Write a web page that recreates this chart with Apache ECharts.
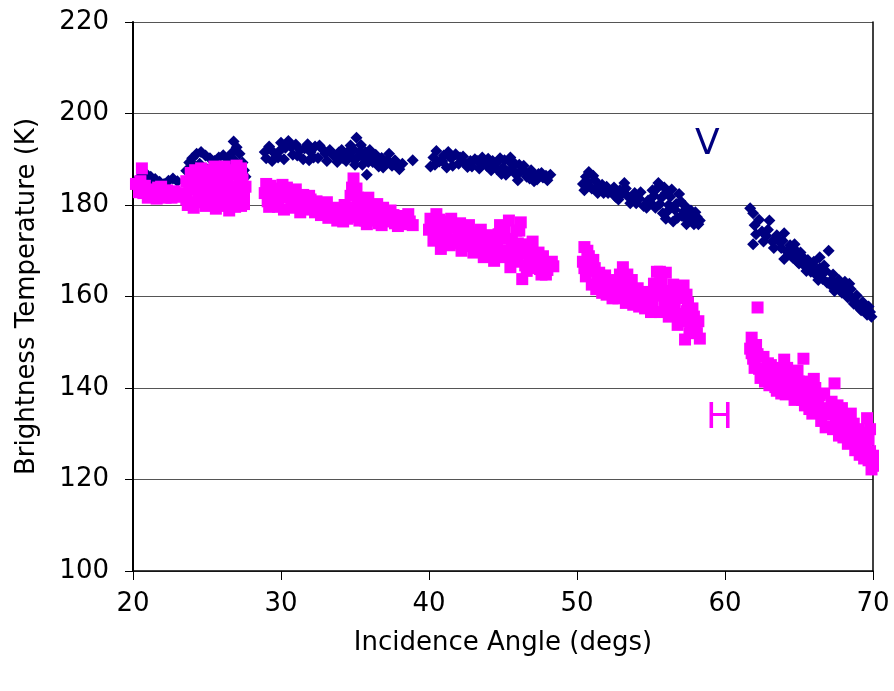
<!DOCTYPE html>
<html>
<head>
<meta charset="utf-8">
<script src="https://cdn.jsdelivr.net/npm/echarts@6/dist/echarts.min.js"></script>
<style>
  html, body { margin: 0; padding: 0; background: #ffffff; }
  #chart { width: 894px; height: 691px; }
</style>
</head>
<body>
<div id="chart"></div>
<script>
// Brightness temperature vs incidence angle, V and H polarisations
var xTicks = [20, 30, 40, 50, 60, 70];
var yTicks = [100, 120, 140, 160, 180, 200, 220];

// [incidence angle (deg), brightness temperature (K)]
var vPol = [
  [20.3,185.6],[20.6,186.3],[20.9,186.8],[21.2,186.2],[21.5,185.7],[21.8,185.1],[22.1,184.6],[22.4,185.3],[22.7,185.8],[23.0,185.2],[21.0,184.8],[22.0,184.2],
  [23.6,187.5],[23.8,189.3],[24.0,190.2],[24.3,191.2],[24.6,191.6],[24.9,190.8],[25.2,190.2],[25.5,189.6],[25.8,190.4],[26.1,190.9],[26.4,190.1],[26.7,191.4],[26.8,193.9],[27.0,192.6],[27.2,191.2],[27.4,189.3],[27.5,187.6],[27.6,186.2],[24.2,188.4],[25.0,187.8],[25.9,188.2],[26.5,188.8],
  [23.9,186.8],[24.5,189.0],[25.3,188.2],[25.7,187.4],[26.2,188.6],[26.9,189.6],[27.3,187.6],[24.7,187.2],
  [28.9,191.6],[29.2,192.8],[29.5,191.5],[29.8,190.4],[30.0,193.6],[30.3,192.5],[30.5,194.0],[30.8,191.0],[31.0,193.2],[31.3,192.0],[31.5,190.0],[31.8,193.3],[32.0,191.6],[32.3,192.8],[32.5,190.3],[32.8,192.2],[33.0,191.2],[33.3,192.0],[33.6,190.6],[33.9,191.5],[34.2,190.2],[34.5,191.6],[34.7,193.0],[34.9,192.1],[35.1,194.7],[35.2,190.5],[35.4,193.1],[35.5,188.8],[35.7,191.6],[35.8,186.6],[36.0,192.0],[36.2,189.4],[36.4,191.0],[36.6,188.4],[36.8,190.3],[37.0,189.1],[37.3,191.2],[37.5,188.6],[37.7,189.8],[38.0,187.8],[38.9,189.8],
  [29.0,190.2],[29.4,189.6],[29.9,191.8],[30.2,190.0],[30.7,192.6],[31.1,190.8],[31.6,192.4],[31.9,189.8],[32.2,190.4],[32.6,193.0],[33.1,189.6],[33.5,191.2],[33.8,189.4],[34.1,192.0],[34.4,189.6],[34.8,190.4],[35.0,188.8],[35.3,191.6],[35.6,190.2],[35.9,189.4],[36.1,190.6],[36.5,189.6],[36.9,188.2],[37.2,189.8],[37.8,188.6],[38.2,189.0],
  [40.1,188.4],[40.3,190.4],[40.5,191.8],[40.7,189.5],[41.0,190.8],[41.2,188.2],[41.5,190.2],[41.8,191.1],[42.0,189.0],[42.3,190.6],[42.6,188.3],[42.8,189.6],[43.1,190.0],[43.4,188.0],[43.7,189.3],[44.0,190.1],[44.2,187.6],[44.5,189.0],[44.8,190.2],[45.0,188.2],[45.2,186.6],[45.4,189.6],[45.6,187.8],[45.8,189.0],[46.0,185.4],[46.2,187.4],[46.4,188.6],[46.6,186.2],[46.9,187.6],[47.1,185.2],[47.4,186.8],[47.7,186.0],[48.0,185.4],[48.2,186.6],
  [40.4,188.8],[40.9,189.6],[41.3,191.6],[41.6,188.6],[42.1,190.4],[42.4,189.2],[42.9,188.4],[43.3,189.6],[43.6,190.4],[43.9,188.6],[44.3,189.6],[44.6,187.8],[45.1,189.8],[45.3,187.2],[45.7,188.6],[45.9,186.6],[46.1,188.8],[46.5,187.2],[46.8,185.8],[47.0,186.8],[47.3,185.6],[47.6,187.0],[47.9,186.4],[45.5,190.4],[44.9,186.8],
  [50.4,184.6],[50.6,186.2],[50.8,187.2],[51.0,183.6],[51.2,185.4],[51.5,184.2],[51.8,182.6],[52.0,184.0],[52.3,183.0],[52.6,181.8],[52.9,183.2],[53.2,184.8],[53.4,182.0],[53.6,180.4],[53.9,182.6],[54.2,181.4],[54.5,179.8],[54.8,181.0],[55.1,183.2],[55.3,179.4],[55.5,184.8],[55.7,181.6],[55.9,183.8],[56.1,178.6],[56.3,181.8],[56.5,176.4],[56.7,180.2],[56.9,182.4],[57.1,177.6],[57.3,179.8],[57.5,176.6],[57.7,178.8],[57.9,175.8],[58.1,177.4],[58.3,176.6],[56.0,177.0],
  [50.5,183.2],[50.7,185.0],[51.1,186.4],[51.4,182.6],[51.7,184.4],[52.1,182.6],[52.5,183.8],[52.8,181.2],[53.1,182.6],[53.3,183.6],[53.7,181.6],[54.0,180.4],[54.3,182.8],[54.7,179.4],[55.0,180.4],[55.2,182.0],[55.4,183.6],[55.6,180.2],[55.8,178.2],[56.0,182.6],[56.2,180.0],[56.4,183.4],[56.6,179.0],[56.8,177.2],[57.0,180.8],[57.2,178.6],[57.4,175.8],[57.6,177.8],[57.8,176.8],[58.0,178.4],[58.2,175.8],
  [61.7,179.3],[61.9,178.2],[62.0,175.6],[61.9,171.4],[62.3,176.8],[62.5,174.2],[62.8,173.2],[63.0,176.6],[63.2,172.0],[63.5,173.4],[63.8,170.6],[64.0,173.8],[64.2,169.8],[64.4,171.2],[64.6,168.4],[64.8,170.0],[65.0,167.2],[65.2,168.8],[65.4,166.6],[65.6,168.0],[65.8,165.4],[66.0,167.6],[66.2,164.6],[66.4,166.2],[66.6,163.8],[66.8,165.6],[67.0,170.0],[67.1,162.6],[67.3,164.8],[67.5,162.0],[67.7,163.6],[67.9,160.8],[68.1,163.2],[68.3,159.8],[68.5,161.6],[68.7,158.4],[68.9,160.2],[69.1,157.4],[69.3,158.8],[69.5,156.6],[69.7,157.8],[69.9,155.6],[66.4,168.6],[64.0,168.2],
  [62.1,173.6],[62.6,172.0],[62.9,174.6],[63.3,170.6],[63.6,172.2],[63.9,172.2],[64.3,170.2],[64.5,168.8],[64.7,171.4],[64.9,167.6],[65.1,169.6],[65.3,167.4],[65.5,165.6],[65.7,166.8],[65.9,167.0],[66.1,165.4],[66.3,163.6],[66.5,165.0],[66.7,166.8],[66.9,163.0],[67.2,163.6],[67.4,161.2],[67.6,163.0],[67.8,161.8],[68.0,162.0],[68.2,160.8],[68.4,162.8],[68.6,159.6],[68.8,158.6],[69.0,158.2],[69.2,157.0],[69.4,157.8],[69.6,156.0],[69.8,156.6]
];

var hPol = [
  [20.2,184.6],[20.4,182.8],[20.6,188.0],[20.8,184.2],[21.0,181.6],[21.2,183.4],[21.4,182.2],[21.7,183.8],[22.0,182.0],[22.3,183.2],[22.6,181.6],[22.8,183.0],[20.5,185.2],
  [21.1,182.8],[21.6,181.4],[22.2,181.6],[22.9,181.8],[20.7,182.6],[21.9,184.0],
  [23.5,182.6],[23.6,185.2],[23.7,180.0],[23.9,187.0],[24.0,183.4],[24.1,179.4],[24.3,185.8],[24.4,181.4],[24.6,188.0],[24.7,183.6],[24.9,179.8],[25.0,186.4],[25.2,181.8],[25.3,184.6],[25.5,188.4],[25.6,179.2],[25.8,183.0],[25.9,186.0],[26.1,180.6],[26.2,188.4],[26.4,184.2],[26.5,178.8],[26.7,186.6],[26.8,181.6],[27.0,188.6],[27.1,183.8],[27.3,179.8],[27.4,185.6],[27.5,182.0],[26.0,183.6],[24.8,185.0],
  [23.6,181.2],[23.8,183.6],[24.0,185.6],[24.2,187.6],[24.3,180.6],[24.5,182.8],[24.6,184.6],[24.9,187.6],[25.0,180.6],[25.1,183.2],[25.3,186.6],[25.4,181.0],[25.6,183.6],[25.7,187.0],[25.9,179.8],[26.0,181.8],[26.1,185.6],[26.3,187.0],[26.3,182.6],[26.6,180.0],[26.6,184.0],[26.8,187.6],[26.9,179.6],[27.0,182.6],[27.2,185.6],[27.3,188.0],[27.5,180.2],[27.6,184.0],
  [28.9,182.6],[29.1,180.8],[29.3,184.2],[29.6,182.0],[29.8,179.6],[30.1,184.4],[30.3,181.6],[30.6,183.2],[30.8,179.4],[31.1,181.8],[31.3,178.4],[31.6,180.6],[31.9,182.0],[32.1,179.2],[32.4,180.8],[32.7,177.8],[33.0,179.6],[33.2,177.2],[33.5,178.6],[33.8,176.6],[34.1,178.2],[34.3,180.0],[34.5,177.0],[34.7,182.0],[34.9,185.8],[35.0,179.4],[35.1,183.6],[35.3,176.6],[35.4,181.2],[35.6,178.2],[35.8,175.8],[36.0,179.6],[36.3,177.0],[36.5,180.2],[36.8,175.6],[37.0,178.4],[37.3,176.4],[37.6,177.8],[37.9,175.4],[38.2,176.8],[38.6,178.0],[38.9,175.6],
  [29.0,184.6],[29.2,179.6],[29.5,183.6],[29.7,181.0],[30.0,182.6],[30.2,179.0],[30.4,183.8],[30.7,181.0],[31.0,183.4],[31.2,180.2],[31.5,182.2],[31.8,179.0],[32.0,181.2],[32.3,178.4],[32.6,180.0],[32.9,178.4],[33.1,180.6],[33.4,177.6],[33.7,179.4],[34.0,177.4],[34.2,176.4],[34.6,179.0],[34.8,183.8],[35.0,177.4],[35.2,181.6],[35.5,179.6],[35.7,176.6],[35.9,181.6],[36.1,176.6],[36.4,178.4],[36.6,176.0],[36.9,179.4],[37.1,176.8],[37.4,178.8],[37.7,176.0],[38.0,177.6],[38.4,175.8],[38.7,176.4],
  [40.0,174.6],[40.1,177.0],[40.3,172.2],[40.5,178.0],[40.6,175.2],[40.8,170.4],[41.0,176.4],[41.2,173.0],[41.5,177.0],[41.7,171.6],[42.0,174.4],[42.2,170.0],[42.5,172.8],[42.7,175.6],[43.0,169.6],[43.2,172.2],[43.5,174.6],[43.7,168.6],[44.0,171.0],[44.2,173.4],[44.4,167.8],[44.6,170.2],[44.8,175.6],[45.0,168.6],[45.2,172.6],[45.4,176.6],[45.5,166.4],[45.7,170.2],[45.9,174.4],[46.0,167.6],[46.2,176.2],[46.4,171.4],[46.6,165.6],[46.8,168.6],[47.0,172.0],[47.2,166.2],[47.4,169.6],[47.6,164.8],[47.8,167.4],[48.0,165.8],[48.3,167.6],[46.3,163.8],
  [40.2,175.6],[40.4,173.4],[40.7,176.8],[40.9,172.6],[41.1,174.8],[41.4,171.2],[41.6,175.0],[41.9,172.4],[42.1,176.0],[42.4,171.0],[42.6,174.0],[42.9,171.8],[43.1,174.0],[43.4,170.2],[43.6,172.8],[43.9,169.6],[44.1,172.0],[44.3,169.0],[44.5,171.8],[44.7,173.6],[44.9,170.0],[45.1,174.6],[45.3,169.6],[45.6,172.0],[45.8,168.0],[46.0,171.6],[46.1,174.4],[46.3,169.4],[46.5,166.8],[46.7,170.4],[46.9,166.6],[47.1,169.0],[47.3,167.6],[47.5,166.0],[47.7,168.8],[47.9,164.8],[48.1,166.8],[48.4,166.6],
  [50.4,167.6],[50.5,170.8],[50.6,164.4],[50.8,168.8],[51.0,162.6],[51.2,166.2],[51.4,163.8],[51.7,160.8],[51.9,164.6],[52.2,162.0],[52.4,159.6],[52.7,161.8],[53.0,163.6],[53.1,166.4],[53.3,158.6],[53.5,161.2],[53.7,163.6],[54.0,159.6],[54.2,157.8],[54.5,161.0],[54.8,159.0],[55.0,156.6],[55.2,162.8],[55.4,165.4],[55.5,160.2],[55.7,163.6],[55.9,157.8],[56.0,165.2],[56.2,155.6],[56.4,160.8],[56.6,158.4],[56.8,153.8],[57.0,161.6],[57.2,156.2],[57.2,162.4],[57.3,150.6],[57.5,158.6],[57.7,153.4],[57.9,155.6],[58.1,152.0],[58.3,150.8],[58.2,154.6],
  [50.5,166.2],[50.7,170.0],[50.9,165.6],[51.1,168.0],[51.3,161.6],[51.5,165.2],[51.8,162.8],[52.0,160.4],[52.3,163.6],[52.5,160.8],[52.8,159.6],[52.9,164.8],[53.2,161.8],[53.4,164.8],[53.6,160.0],[53.8,158.2],[54.1,161.8],[54.3,159.2],[54.6,157.4],[54.9,160.6],[55.1,158.2],[55.3,160.4],[55.6,156.6],[55.6,165.4],[55.8,161.2],[56.1,159.6],[56.3,157.4],[56.5,162.6],[56.7,156.0],[56.9,159.6],[57.1,154.6],[57.4,156.8],[57.6,152.0],[57.8,157.4],[58.0,154.0],[57.4,160.4],
  [62.2,157.6],[61.8,151.0],[61.7,148.6],[61.9,146.4],[62.1,149.4],[62.3,144.2],[62.4,142.2],[62.6,146.8],[62.8,143.0],[63.0,140.6],[63.1,145.0],[63.3,142.0],[63.5,139.4],[63.7,144.4],[63.9,141.2],[64.0,146.2],[64.1,138.6],[64.3,142.6],[64.5,140.0],[64.7,137.4],[64.9,143.8],[65.1,139.6],[65.3,146.4],[65.4,136.2],[65.6,141.4],[65.8,138.2],[65.9,134.4],[66.1,140.0],[66.3,136.4],[66.5,132.8],[66.7,138.8],[66.9,134.8],[67.0,131.6],[67.2,137.0],[67.4,141.0],[67.5,133.0],[67.7,129.6],[67.9,135.6],[68.1,131.6],[68.3,127.8],[68.5,134.4],[68.6,129.8],[68.8,126.4],[69.0,131.0],[69.2,128.0],[69.4,124.6],[69.6,133.4],[69.7,128.8],[69.8,126.2],[69.9,122.2],[70.0,125.2],
  [61.8,147.6],[62.0,144.4],[62.2,147.4],[62.5,143.8],[62.7,141.4],[62.9,145.4],[63.2,143.6],[63.4,140.2],[63.6,142.6],[63.8,138.8],[64.2,144.4],[64.4,139.0],[64.6,142.2],[64.8,138.6],[65.0,141.4],[65.2,137.4],[65.5,139.4],[65.7,135.4],[65.9,137.8],[66.0,142.0],[66.2,134.6],[66.4,138.4],[66.6,135.6],[66.8,131.4],[67.1,134.2],[67.3,131.0],[67.6,136.2],[67.8,132.2],[68.0,129.2],[68.2,133.6],[68.4,130.4],[68.7,132.2],[68.9,128.2],[69.1,125.4],[69.3,130.2],[69.5,127.0],[69.7,124.2],[69.8,131.0],[70.0,123.0]
];

var FONT = 'DejaVu Sans';
var chart = echarts.init(document.getElementById('chart'), null, { renderer: 'canvas' });

chart.setOption({
  animation: false,
  backgroundColor: '#ffffff',
  grid: { left: 133, right: 21, top: 22, bottom: 120, containLabel: false },
  xAxis: {
    type: 'value',
    min: xTicks[0],
    max: xTicks[xTicks.length - 1],
    interval: 10,
    name: 'Incidence Angle (degs)',
    nameLocation: 'middle',
    nameGap: 59,
    nameTextStyle: { fontFamily: FONT, fontSize: 26, color: '#000' },
    axisLine: { onZero: false, lineStyle: { color: '#000', width: 1.5 } },
    axisTick: { show: true, inside: false, length: 9, lineStyle: { color: '#000', width: 1 } },
    axisLabel: { fontFamily: FONT, fontSize: 26, color: '#000', margin: 20 },
    splitLine: { show: false }
  },
  yAxis: [{
    type: 'value',
    min: yTicks[0],
    max: yTicks[yTicks.length - 1],
    interval: 20,
    name: 'Brightness Temperature (K)',
    nameLocation: 'middle',
    nameGap: 93,
    nameRotate: 90,
    nameTextStyle: { fontFamily: FONT, fontSize: 26, color: '#000' },
    axisLine: { show: true, onZero: false, lineStyle: { color: '#000', width: 2 } },
    axisTick: { show: true, inside: false, length: 8, lineStyle: { color: '#000', width: 1 } },
    axisLabel: { fontFamily: FONT, fontSize: 26, color: '#000', margin: 24 },
    splitLine: { show: true, lineStyle: { color: '#555', width: 1 } }
  }, {
    type: 'value',
    position: 'right',
    min: yTicks[0],
    max: yTicks[yTicks.length - 1],
    interval: 20,
    axisLine: { show: true, onZero: false, lineStyle: { color: '#000', width: 1.5 } },
    axisTick: { show: false },
    axisLabel: { show: false },
    splitLine: { show: false }
  }],
  series: [{
    name: 'V',
    type: 'scatter',
    symbol: 'diamond',
    symbolSize: 12,
    itemStyle: { color: '#000080', opacity: 1 },
    data: vPol,
    z: 2
  }, {
    name: 'H',
    type: 'scatter',
    symbol: 'rect',
    symbolSize: 12,
    itemStyle: { color: '#ff00ff', opacity: 1 },
    data: hPol,
    z: 3
  }],
  graphic: [{
    type: 'text',
    left: 695, top: 127,
    style: { text: 'V', fontFamily: FONT, fontSize: 36, fill: '#000080' }
  }, {
    type: 'text',
    left: 706, top: 401,
    style: { text: 'H', fontFamily: FONT, fontSize: 36, fill: '#ff00ff' }
  }]
});
</script>
</body>
</html>
